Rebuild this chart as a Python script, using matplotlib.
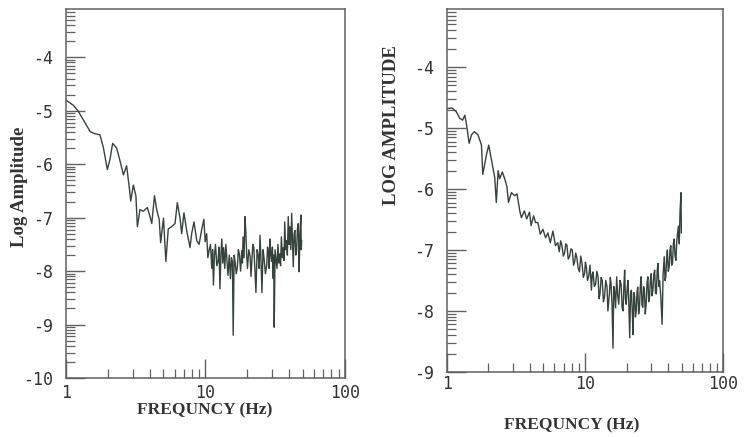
import numpy as np
import matplotlib.pyplot as plt

plt.rcParams['axes.unicode_minus'] = False

# Panel izquierdo: espectro (frecuencia en Hz, log amplitud)
freq_a = [1.0, 1.13, 1.225, 1.33, 1.49, 1.61, 1.75, 1.85, 1.98, 2.07, 2.16, 2.31,
          2.44, 2.58, 2.72, 2.85, 2.91, 3.04, 3.17, 3.25, 3.39, 3.58, 3.83, 4.0,
          4.12, 4.31, 4.47, 4.66, 4.77, 5.0, 5.2, 5.41, 5.72, 6.05, 6.28, 6.57,
          6.75, 7.01, 7.33, 7.75, 7.96, 8.27, 8.66, 9.0, 9.37, 9.74, 9.95, 10.2,
          10.4, 10.6, 10.85, 11.1, 11.25, 11.4, 11.6, 11.8, 12.05, 12.3, 12.5, 12.7,
          12.9, 13.1, 13.3, 13.5, 13.75, 14.0, 14.25, 14.5, 14.8, 15.1, 15.35, 15.6,
          15.8, 16.05, 16.3, 16.6, 16.9, 17.2, 17.5, 17.85, 18.2, 18.4, 18.6, 18.9,
          19.2, 19.5, 19.75, 20.0, 20.45, 20.9, 21.2, 21.5, 21.85, 22.2, 22.6, 23.0,
          23.45, 23.9, 24.25, 24.6, 25.0, 25.4, 25.85, 26.3, 26.9, 27.5, 27.85, 28.2,
          28.6, 29.0, 29.4, 29.8, 30.2, 30.6, 30.85, 31.1, 31.55, 32.0, 32.55, 33.1,
          33.6, 34.1, 34.55, 35.0, 35.55, 36.1, 36.55, 37.0, 37.55, 38.1, 38.65, 39.2,
          39.75, 40.3, 40.9, 41.5, 42.05, 42.6, 43.2, 43.8, 44.4, 45.0, 45.65, 46.3,
          46.6, 46.9, 47.6, 48.3, 48.6, 48.9]
amp_a = [-4.8, -4.9, -5.01, -5.17, -5.39, -5.43, -5.45, -5.68, -6.1, -5.9, -5.61, -5.7,
         -5.94, -6.2, -6.03, -6.46, -6.69, -6.39, -6.59, -7.17, -6.85, -6.88, -6.81, -6.98,
         -7.11, -6.59, -6.85, -7.04, -7.47, -7.01, -7.82, -7.21, -7.17, -7.11, -6.72, -7.01,
         -7.3, -6.91, -7.24, -7.56, -7.3, -7.08, -7.43, -7.5, -7.24, -7.03, -7.45, -7.3,
         -7.75, -7.62, -7.5, -7.95, -7.6, -8.26, -7.7, -7.5, -7.9, -7.82, -7.55, -8.33,
         -7.7, -7.4, -7.85, -7.56, -7.95, -7.5, -7.8, -8.08, -7.7, -8.14, -7.75, -7.82,
         -9.2, -7.7, -7.82, -8.05, -7.95, -7.6, -7.68, -8.0, -7.62, -7.85, -7.36, -7.75,
         -6.98, -7.3, -7.7, -7.95, -7.6, -7.72, -8.1, -7.82, -7.5, -7.56, -7.95, -8.4,
         -7.6, -7.72, -7.95, -7.33, -7.8, -8.4, -7.6, -7.76, -8.05, -7.88, -7.55, -7.62,
         -7.95, -7.4, -7.7, -7.82, -7.55, -8.14, -7.7, -9.05, -7.6, -7.76, -7.95, -7.5,
         -7.85, -7.68, -7.9, -7.36, -7.75, -7.56, -7.8, -7.08, -7.6, -7.43, -7.7, -6.98,
         -7.5, -7.17, -7.6, -6.92, -7.45, -7.92, -7.3, -7.24, -7.7, -7.62, -7.2, -7.11,
         -7.5, -8.01, -7.3, -6.95, -7.6, -7.43]

# Panel derecho
freq_b = [1.0, 1.02, 1.09, 1.17, 1.24, 1.30, 1.35, 1.39, 1.45, 1.51, 1.58, 1.68,
          1.78, 1.82, 1.93, 2.01, 2.12, 2.22, 2.28, 2.35, 2.41, 2.52, 2.62, 2.72,
          2.79, 2.93, 3.1, 3.22, 3.37, 3.46, 3.64, 3.78, 3.96, 4.07, 4.24, 4.38,
          4.55, 4.74, 4.95, 5.18, 5.38, 5.6, 5.85, 6.1, 6.34,
          6.5, 6.65, 6.8, 6.95, 7.1, 7.25, 7.38, 7.55, 7.71, 7.9, 8.07, 8.25,
          8.4, 8.55, 8.73, 8.9, 9.1, 9.3, 9.5, 9.7, 9.9, 10.05, 10.2, 10.4,
          10.6, 10.85, 11.1, 11.25, 11.4, 11.65, 11.9, 12.15, 12.4, 12.6, 12.8, 13.05,
          13.3, 13.55, 13.8, 14.1, 14.4, 14.6, 15.0, 15.2, 15.4, 15.65, 15.9, 16.1,
          16.3, 16.6, 16.9, 17.2, 17.5, 17.85, 18.2, 18.5, 18.8, 19.05, 19.3, 19.55,
          19.8, 20.1, 20.4, 20.7, 21.0, 21.3, 21.6, 21.9, 22.2, 22.5, 22.8, 23.1,
          23.4, 23.7, 24.0, 24.35, 24.7, 25.05, 25.4, 25.75, 26.1, 26.45, 26.8, 27.2,
          27.6, 28.0, 28.4, 28.8, 29.2, 29.6, 30.0, 30.45, 30.9, 31.35, 31.8, 32.25,
          32.7, 33.15, 33.6, 34.05, 34.5, 35.2, 36.0, 36.6, 37.3, 37.8, 38.3, 38.8,
          39.3, 39.9, 40.5, 41.05, 41.6, 42.2, 42.8, 43.4, 44.0, 44.65, 45.3, 45.95,
          46.6, 47.3, 47.9, 48.5, 49.3, 49.6]
amp_b = [-4.68, -4.68, -4.67, -4.73, -4.84, -4.87, -4.79, -4.95, -5.25, -5.11, -5.06, -5.11,
         -5.28, -5.76, -5.45, -5.28, -5.56, -5.81, -6.22, -5.7, -5.83, -5.72, -5.83, -5.96,
         -6.22, -6.06, -6.11, -6.08, -6.36, -6.47, -6.36, -6.49, -6.38, -6.6, -6.44, -6.55,
         -6.55, -6.74, -6.66, -6.8, -6.72, -6.88, -6.69, -6.93, -6.88,
         -7.03, -6.85, -6.93, -7.1, -7.05, -6.9, -6.92, -7.15, -7.11, -6.98, -7.0, -7.25,
         -7.19, -7.05, -7.14, -7.3, -7.36, -7.1, -7.22, -7.45, -7.39, -7.2, -7.28, -7.5,
         -7.44, -7.25, -7.66, -7.4, -7.36, -7.6, -7.56, -7.35, -7.44, -7.8, -7.72, -7.45,
         -7.5, -7.85, -7.77, -7.5, -7.61, -8.0, -7.7, -7.45, -7.56, -7.9, -8.61, -7.6,
         -7.66, -7.95, -7.44, -7.75, -7.89, -7.5, -7.56, -7.95, -8.0, -7.6, -7.33, -7.8,
         -7.89, -7.65, -7.5, -7.9, -8.44, -7.7, -7.66, -8.0, -8.39, -7.7, -7.77, -8.1,
         -8.0, -7.7, -7.61, -8.05, -7.94, -7.6, -7.44, -7.9, -7.94, -7.6, -7.66, -8.05,
         -7.89, -7.55, -7.44, -7.85, -7.77, -7.5, -7.39, -7.75, -7.66, -7.4, -7.33, -7.7,
         -7.72, -7.35, -7.22, -7.6, -7.5, -7.75, -8.22, -7.4, -7.11, -7.5, -7.44, -7.15,
         -7.0, -7.35, -7.28, -7.0, -6.93, -7.25, -7.22, -6.9, -6.82, -7.1, -7.17, -6.85,
         -6.72, -6.61, -6.9, -6.38, -6.06, -6.72]

line_col = '#36423c'
spine_col = '#606060'
text_col = '#333333'

fig = plt.figure(figsize=(7.56, 4.37), dpi=100)
ax1 = fig.add_axes([0.0873, 0.135, 0.369, 0.844])
ax2 = fig.add_axes([0.591, 0.149, 0.366, 0.830])


def estilo(ax, ymin, ymax):
    ax.set_xscale('log')
    ax.set_xlim(1, 100)
    ax.set_ylim(ymin, ymax)
    for s in ax.spines.values():
        s.set_color(spine_col)
        s.set_linewidth(1.1)
    ax.set_xticks([1, 10, 100])
    ax.set_xticklabels(['1', '10', '100'])
    ax.set_xticks([k * d for d in (1, 10) for k in range(2, 10)], minor=True)
    mayores = list(range(int(np.ceil(ymin)), int(np.floor(ymax)) + 1))
    ax.set_yticks(mayores)
    ax.set_yticklabels([str(v) for v in mayores])
    minors = [n + np.log10(k) for n in range(int(ymin) - 1, int(ymax) + 1) for k in range(2, 10)]
    ax.set_yticks([m for m in minors if ymin < m < ymax], minor=True)
    ax.tick_params(which='both', direction='in', color=spine_col, top=False, right=False)
    ax.tick_params(which='major', length=14, width=1.0)
    ax.tick_params(which='minor', length=6.5, width=0.9)
    ax.tick_params(axis='y', which='major', pad=9)
    ax.tick_params(axis='x', which='major', pad=4)
    for lab in ax.get_xticklabels() + ax.get_yticklabels():
        lab.set_fontfamily('DejaVu Sans Mono')
        lab.set_fontsize(12)
        lab.set_color(text_col)


ax1.plot(freq_a, amp_a, color=line_col, lw=1.0)
estilo(ax1, -10, -3.1)
ax2.plot(freq_b, amp_b, color=line_col, lw=1.0)
estilo(ax2, -9, -3.05)
ax2.tick_params(axis='x', which='major', pad=2)

etiq = dict(fontfamily='Liberation Serif', fontweight='bold', color=text_col,
            ha='center', va='center')
fig.text(20 / 756, 1 - 187 / 437, 'Log Amplitude', rotation=90, fontsize=13.5, **etiq)
fig.text(392 / 756, 1 - 125 / 437, 'LOG AMPLITUDE', rotation=90, fontsize=13.5, **etiq)
fig.text(205 / 756, 1 - 410 / 437, 'FREQUNCY (Hz)', fontsize=12.5, **etiq)
fig.text(572 / 756, 1 - 425 / 437, 'FREQUNCY (Hz)', fontsize=12.5, **etiq)

fig.savefig('out.png', dpi=100)
